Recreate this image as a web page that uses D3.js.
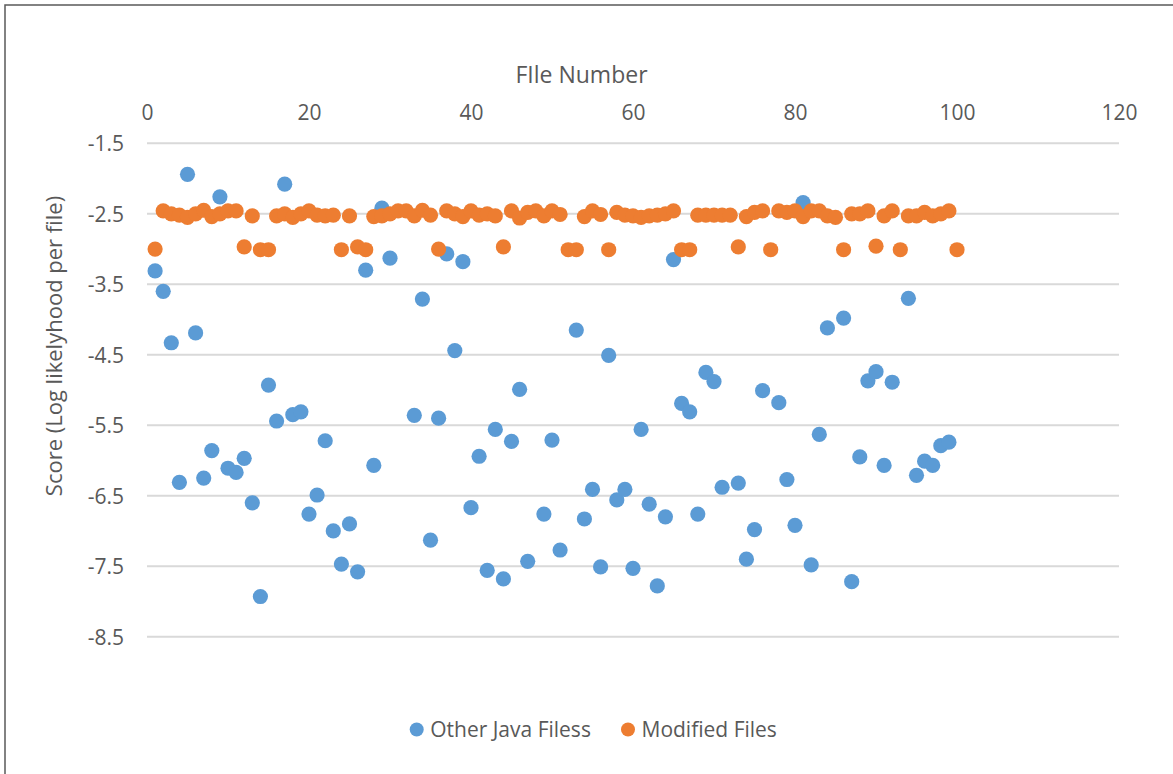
<!DOCTYPE html>
<html>
<head>
<meta charset="utf-8">
<script src="https://cdn.jsdelivr.net/npm/d3@7"></script>
<style>
  html, body { margin: 0; padding: 0; background: #fff; }
  svg { display: block; }
  text { font-family: "Open Sans", "Noto Sans", sans-serif; fill: #595959; }
</style>
</head>
<body>
<svg id="chart" width="1173" height="774"></svg>
<script>
// File numbers (x) and log-likelihood scores (y) for each series
const otherFileNumbers = [1,2,3,4,5,6,7,8,9,10,11,12,13,14,15,16,17,18,19,20,
  21,22,23,24,25,26,27,28,29,30,33,34,35,36,37,38,39,40,41,42,43,44,45,46,47,
  49,50,51,53,54,55,56,57,58,59,60,61,62,63,64,65,66,67,68,69,70,71,73,74,75,
  76,78,79,80,81,82,83,84,86,87,88,89,90,91,92,94,95,96,97,98,99];
const otherScores = [-3.31,-3.60,-4.33,-6.31,-1.94,-4.19,-6.25,-5.86,-2.26,-6.11,
  -6.17,-5.97,-6.60,-7.93,-4.93,-5.44,-2.08,-5.35,-5.31,-6.76,
  -6.49,-5.72,-7.00,-7.47,-6.90,-7.58,-3.30,-6.07,-2.42,-3.13,
  -5.36,-3.71,-7.13,-5.40,-3.07,-4.44,-3.18,-6.67,-5.94,-7.56,-5.56,-7.68,-5.73,-4.99,-7.43,
  -6.76,-5.71,-7.27,-4.15,-6.83,-6.41,-7.51,-4.51,-6.56,-6.41,-7.53,-5.56,-6.62,-7.78,-6.80,
  -3.15,-5.19,-5.31,-6.76,-4.75,-4.88,-6.38,-6.32,-7.40,-6.98,
  -5.01,-5.18,-6.27,-6.92,-2.34,-7.48,-5.63,-4.12,-3.98,-7.72,-5.95,-4.87,-4.74,-6.07,-4.89,
  -3.70,-6.21,-6.01,-6.07,-5.79,-5.74];

const modifiedFileNumbers = d3.range(1, 101);
const modifiedScores = [
  -3.00,-2.46,-2.50,-2.52,-2.55,-2.50,-2.45,-2.54,-2.50,-2.46,
  -2.46,-2.97,-2.53,-3.01,-3.01,-2.53,-2.50,-2.55,-2.50,-2.46,
  -2.52,-2.53,-2.52,-3.01,-2.53,-2.97,-3.01,-2.54,-2.53,-2.50,
  -2.46,-2.46,-2.53,-2.45,-2.52,-3.00,-2.46,-2.50,-2.54,-2.46,
  -2.52,-2.50,-2.53,-2.97,-2.46,-2.56,-2.48,-2.46,-2.53,-2.46,
  -2.51,-3.01,-3.01,-2.54,-2.46,-2.51,-3.01,-2.48,-2.52,-2.53,
  -2.55,-2.53,-2.52,-2.50,-2.46,-3.01,-3.01,-2.52,-2.52,-2.52,
  -2.52,-2.52,-2.97,-2.54,-2.48,-2.46,-3.01,-2.46,-2.48,-2.46,
  -2.54,-2.46,-2.46,-2.53,-2.55,-3.01,-2.50,-2.50,-2.46,-2.96,
  -2.53,-2.46,-3.01,-2.53,-2.53,-2.48,-2.53,-2.50,-2.46,-3.01];

const xTicks = [0, 20, 40, 60, 80, 100, 120];
const yTicks = [-1.5, -2.5, -3.5, -4.5, -5.5, -6.5, -7.5, -8.5];

const seriesNames = ["Other Java Filess", "Modified Files"];
const seriesColors = ["#5B9BD5", "#ED7D31"];

const svg = d3.select("#chart");

// Outer chart frame
svg.append("rect")
  .attr("x", 5).attr("y", 5)
  .attr("width", 1180).attr("height", 780)
  .attr("fill", "none").attr("stroke", "#595959").attr("stroke-width", 1.5);

const x = d3.scaleLinear().domain([0, 120]).range([147, 1119]);
const y = d3.scaleLinear().domain([-1.5, -8.5]).range([143.3, 636.7]);

// Horizontal gridlines
svg.append("g")
  .selectAll("line")
  .data(yTicks)
  .join("line")
  .attr("x1", x(0)).attr("x2", x(120))
  .attr("y1", d => y(d)).attr("y2", d => y(d))
  .attr("stroke", "#D9D9D9").attr("stroke-width", 2);

// X axis labels along the top
const xAxis = d3.axisTop(x).tickValues(xTicks).tickSize(0).tickPadding(0).tickFormat(d => String(d));
const gx = svg.append("g").attr("transform", "translate(0,120)").call(xAxis);
gx.select(".domain").remove();
gx.selectAll("text").attr("font-size", 21).attr("fill", "#595959")
  .style("font-family", '"Open Sans", sans-serif').attr("dy", 0).attr("y", 0);

// Y axis labels on the left (plain hyphen-minus, as in the spreadsheet)
const yAxis = d3.axisLeft(y).tickValues(yTicks).tickSize(0).tickPadding(0).tickFormat(d => d.toFixed(1));
const gy = svg.append("g").attr("transform", "translate(124,0)").call(yAxis);
gy.select(".domain").remove();
gy.selectAll("text").attr("font-size", 21).attr("fill", "#595959")
  .style("font-family", '"Open Sans", sans-serif').attr("dy", "0.36em");

// Axis titles
svg.append("text")
  .attr("x", 581.5).attr("y", 83)
  .attr("text-anchor", "middle")
  .attr("font-size", 23)
  .text("FIle Number");

svg.append("text")
  .attr("transform", "translate(62,346) rotate(-90)")
  .attr("text-anchor", "middle")
  .attr("font-size", 22)
  .text("Score (Log likelyhood per file)");

// Scatter points
const r = 7.6;
svg.append("g")
  .selectAll("circle")
  .data(otherFileNumbers.map((n, i) => [n, otherScores[i]]))
  .join("circle")
  .attr("cx", d => x(d[0])).attr("cy", d => y(d[1]))
  .attr("r", r).attr("fill", seriesColors[0]);

svg.append("g")
  .selectAll("circle")
  .data(modifiedFileNumbers.map((n, i) => [n, modifiedScores[i]]))
  .join("circle")
  .attr("cx", d => x(d[0])).attr("cy", d => y(d[1]))
  .attr("r", r).attr("fill", seriesColors[1]);

// Legend
const legendX = [416.7, 628];
const legend = svg.append("g");
seriesNames.forEach((name, i) => {
  legend.append("circle")
    .attr("cx", legendX[i]).attr("cy", 729.5).attr("r", 7)
    .attr("fill", seriesColors[i]);
  legend.append("text")
    .attr("x", legendX[i] + 13.5).attr("y", 737)
    .attr("font-size", 21)
    .text(name);
});
</script>
</body>
</html>
